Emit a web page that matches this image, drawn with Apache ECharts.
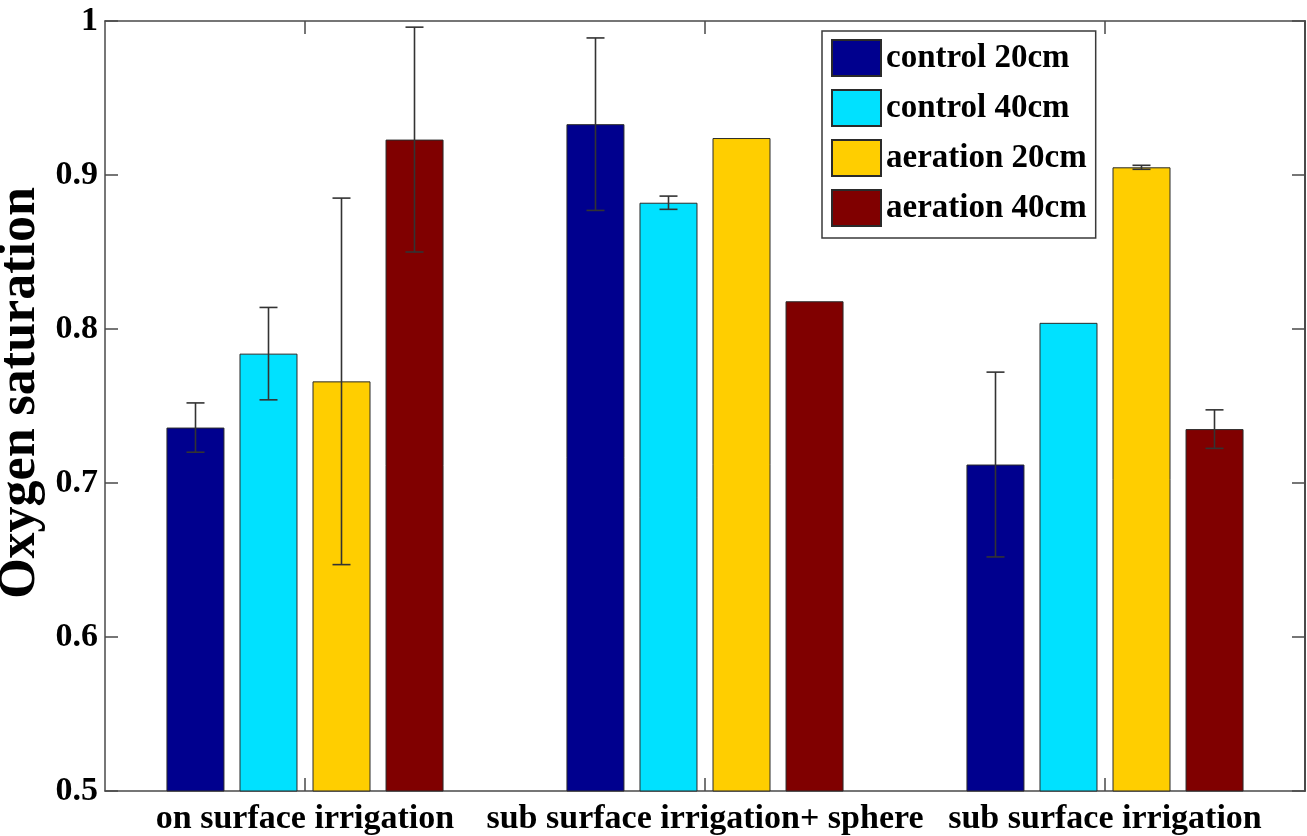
<!DOCTYPE html>
<html>
<head>
<meta charset="utf-8">
<title>Oxygen saturation</title>
<script src="https://cdn.jsdelivr.net/npm/echarts@6/dist/echarts.min.js"></script>
<style>
  html, body { margin: 0; padding: 0; background: #ffffff; }
  #chart { width: 1307px; height: 836px; }
</style>
</head>
<body>
<div id="chart"></div>
<script>
// Treatments along the x axis
const categories = ['on surface irrigation', 'sub surface irrigation+ sphere', 'sub surface irrigation'];

// Mean oxygen saturation per probe
const control20 = [0.736, 0.933, 0.712];
const control40 = [0.784, 0.882, 0.804];
const aeration20 = [0.766, 0.924, 0.905];
const aeration40 = [0.923, 0.818, 0.735];

// Standard error (null where no bar was drawn)
const control20Err = [0.016, 0.056, 0.060];
const control40Err = [0.030, 0.0043, null];
const aeration20Err = [0.119, null, 0.0013];
const aeration40Err = [0.073, null, 0.0125];

// Y axis tick labels
const yTicks = [0.5, 0.6, 0.7, 0.8, 0.9, 1];

const seriesNames = ['control 20cm', 'control 40cm', 'aeration 20cm', 'aeration 40cm'];
const seriesColors = ['#00008E', '#00E1FF', '#FFCE00', '#800000'];
const means = [control20, control40, aeration20, aeration40];
const errs = [control20Err, control40Err, aeration20Err, aeration40Err];

const FONT = '"Liberation Serif", "Times New Roman", serif';
const BAR_W = 58;
const BAR_GAP = 15;
const axisColor = '#4a4a4a';

// error bar rows: [category, series, low, high]
const errRows = [];
means.forEach((vals, s) => {
  vals.forEach((v, c) => {
    const e = errs[s][c];
    if (e != null) errRows.push([c, s, v - e, v + e]);
  });
});

const chart = echarts.init(document.getElementById('chart'), null, { renderer: 'canvas' });

const barSeries = seriesNames.map((name, i) => ({
  name: name,
  type: 'bar',
  data: means[i],
  barWidth: BAR_W,
  barGap: (BAR_GAP / BAR_W * 100).toFixed(1) + '%',
  itemStyle: { color: seriesColors[i], borderColor: '#2a2a2a', borderWidth: 1 },
  emphasis: { disabled: true },
  z: 2
}));

const errorSeries = {
  type: 'custom',
  name: 'error',
  data: errRows,
  encode: { x: 0, y: [2, 3] },
  z: 5,
  silent: true,
  renderItem: function (params, api) {
    const c = api.value(0);
    const s = api.value(1);
    const lo = api.coord([c, api.value(2)]);
    const hi = api.coord([c, api.value(3)]);
    const x = lo[0] + (s - 1.5) * (BAR_W + BAR_GAP);
    const cap = 9;
    const style = { stroke: '#333333', lineWidth: 1.6 };
    return {
      type: 'group',
      children: [
        { type: 'line', shape: { x1: x, y1: lo[1], x2: x, y2: hi[1] }, style: style },
        { type: 'line', shape: { x1: x - cap, y1: hi[1], x2: x + cap, y2: hi[1] }, style: style },
        { type: 'line', shape: { x1: x - cap, y1: lo[1], x2: x + cap, y2: lo[1] }, style: style }
      ]
    };
  }
};

const tickStyle = { show: true, inside: true, length: 13, lineStyle: { color: axisColor, width: 1.5 } };

const option = {
  backgroundColor: '#ffffff',
  animation: false,
  grid: { left: 105, right: 2, top: 21, bottom: 45, containLabel: false, outerBoundsMode: 'none' },
  legend: {
    data: seriesNames,
    orient: 'vertical',
    left: 822,
    top: 31,
    icon: 'rect',
    itemWidth: 49,
    itemHeight: 36,
    itemGap: 12,
    padding: [8, 9, 11, 9],
    borderColor: '#3a3a3a',
    borderWidth: 1.5,
    backgroundColor: '#ffffff',
    selectedMode: false,
    textStyle: { fontFamily: FONT, fontWeight: 'bold', fontSize: 33, color: '#000000', padding: [0, 0, 0, 0] }
  },
  xAxis: [
    {
      type: 'category',
      data: categories,
      position: 'bottom',
      axisLine: { show: true, lineStyle: { color: axisColor, width: 1.5 } },
      axisTick: Object.assign({ alignWithLabel: true }, tickStyle),
      axisLabel: { fontFamily: FONT, fontWeight: 'bold', fontSize: 34, color: '#000000', margin: 11, interval: 0 },
      splitLine: { show: false }
    },
    {
      type: 'category',
      data: categories,
      position: 'top',
      axisLine: { show: true, lineStyle: { color: axisColor, width: 1.5 } },
      axisTick: Object.assign({ alignWithLabel: true }, tickStyle),
      axisLabel: { show: false },
      splitLine: { show: false }
    }
  ],
  yAxis: [
    {
      type: 'value',
      min: 0.5,
      max: 1,
      interval: 0.1,
      position: 'left',
      name: 'Oxygen saturation',
      nameLocation: 'middle',
      nameRotate: 90,
      nameGap: 58,
      nameMoveOverlap: false,
      nameTextStyle: { fontFamily: FONT, fontWeight: 'bold', fontSize: 52, color: '#000000', padding: [0, 0, 0, 26] },
      axisLine: { show: true, lineStyle: { color: axisColor, width: 1.5 } },
      axisTick: tickStyle,
      axisLabel: {
        fontFamily: FONT, fontWeight: 'bold', fontSize: 34, color: '#000000', margin: 7,
        formatter: function (v) {
          const t = yTicks.find(k => Math.abs(k - v) < 1e-9);
          return t != null ? String(t) : '';
        }
      },
      splitLine: { show: false }
    },
    {
      type: 'value',
      min: 0.5,
      max: 1,
      interval: 0.1,
      position: 'right',
      axisLine: { show: true, lineStyle: { color: axisColor, width: 2 } },
      axisTick: tickStyle,
      axisLabel: { show: false },
      splitLine: { show: false }
    }
  ],
  series: barSeries.concat([errorSeries])
};

chart.setOption(option);
</script>
</body>
</html>
